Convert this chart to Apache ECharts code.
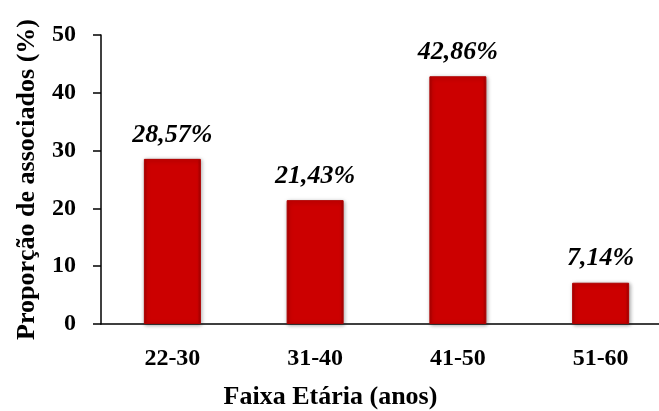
<!DOCTYPE html>
<html>
<head>
<meta charset="utf-8">
<script src="https://cdn.jsdelivr.net/npm/echarts@6/dist/echarts.min.js"></script>
<style>
  html, body { margin: 0; padding: 0; background: #fff; }
  #chart { width: 659px; height: 411px; }
</style>
</head>
<body>
<div id="chart"></div>
<script>
const categories = ['22-30', '31-40', '41-50', '51-60'];
const proportions = [28.57, 21.43, 42.86, 7.14];
const yTicks = [0, 10, 20, 30, 40, 50];

const font = '"Liberation Serif", "Times New Roman", serif';

const myChart = echarts.init(document.getElementById('chart'));

const option = {
  animation: false,
  grid: {
    left: 101,
    top: 35,
    width: 571,
    height: 289,
    outerBoundsMode: 'none',
    containLabel: false
  },
  xAxis: {
    type: 'category',
    data: categories,
    name: 'Faixa Etária (anos)',
    nameLocation: 'middle',
    nameGap: 60,
    nameTextStyle: {
      fontFamily: font,
      fontWeight: 'bold',
      fontSize: 26,
      color: '#000',
      padding: [0, 112, 0, 0]
    },
    axisLine: { lineStyle: { color: '#000', width: 1.5 } },
    axisTick: { show: false },
    axisLabel: {
      margin: 23,
      fontFamily: font,
      fontWeight: 'bold',
      fontSize: 24,
      color: '#000'
    }
  },
  yAxis: {
    type: 'value',
    min: yTicks[0],
    max: yTicks[yTicks.length - 1],
    interval: 10,
    name: 'Proporção de associados (%)',
    nameLocation: 'middle',
    nameGap: 61,
    nameTextStyle: {
      fontFamily: font,
      fontWeight: 'bold',
      fontSize: 26,
      color: '#000'
    },
    axisLine: { show: true, lineStyle: { color: '#000', width: 1.5 } },
    axisTick: { show: true, length: 8, lineStyle: { color: '#000', width: 1.5 } },
    splitLine: { show: false },
    axisLabel: {
      margin: 25,
      fontFamily: font,
      fontWeight: 'bold',
      fontSize: 24,
      color: '#000'
    }
  },
  series: [
    {
      type: 'bar',
      data: proportions,
      barWidth: 57,
      itemStyle: {
        color: new echarts.graphic.LinearGradient(0, 0, 1, 0, [
          { offset: 0, color: '#a80000' },
          { offset: 0.06, color: '#cc0000' },
          { offset: 0.94, color: '#cc0000' },
          { offset: 1, color: '#a00000' }
        ]),
        borderColor: '#b00000',
        borderWidth: 1,
        shadowColor: 'rgba(0,0,0,0.35)',
        shadowBlur: 4,
        shadowOffsetX: 1,
        shadowOffsetY: 1
      },
      label: {
        show: true,
        position: 'top',
        distance: 11,
        formatter: function (p) {
          return p.value.toFixed(2).replace('.', ',') + '%';
        },
        fontFamily: font,
        fontWeight: 'bold',
        fontStyle: 'italic',
        fontSize: 26,
        color: '#000'
      }
    }
  ]
};

myChart.setOption(option);

window.addEventListener('resize', function () {
  myChart.resize();
});
</script>
</body>
</html>
